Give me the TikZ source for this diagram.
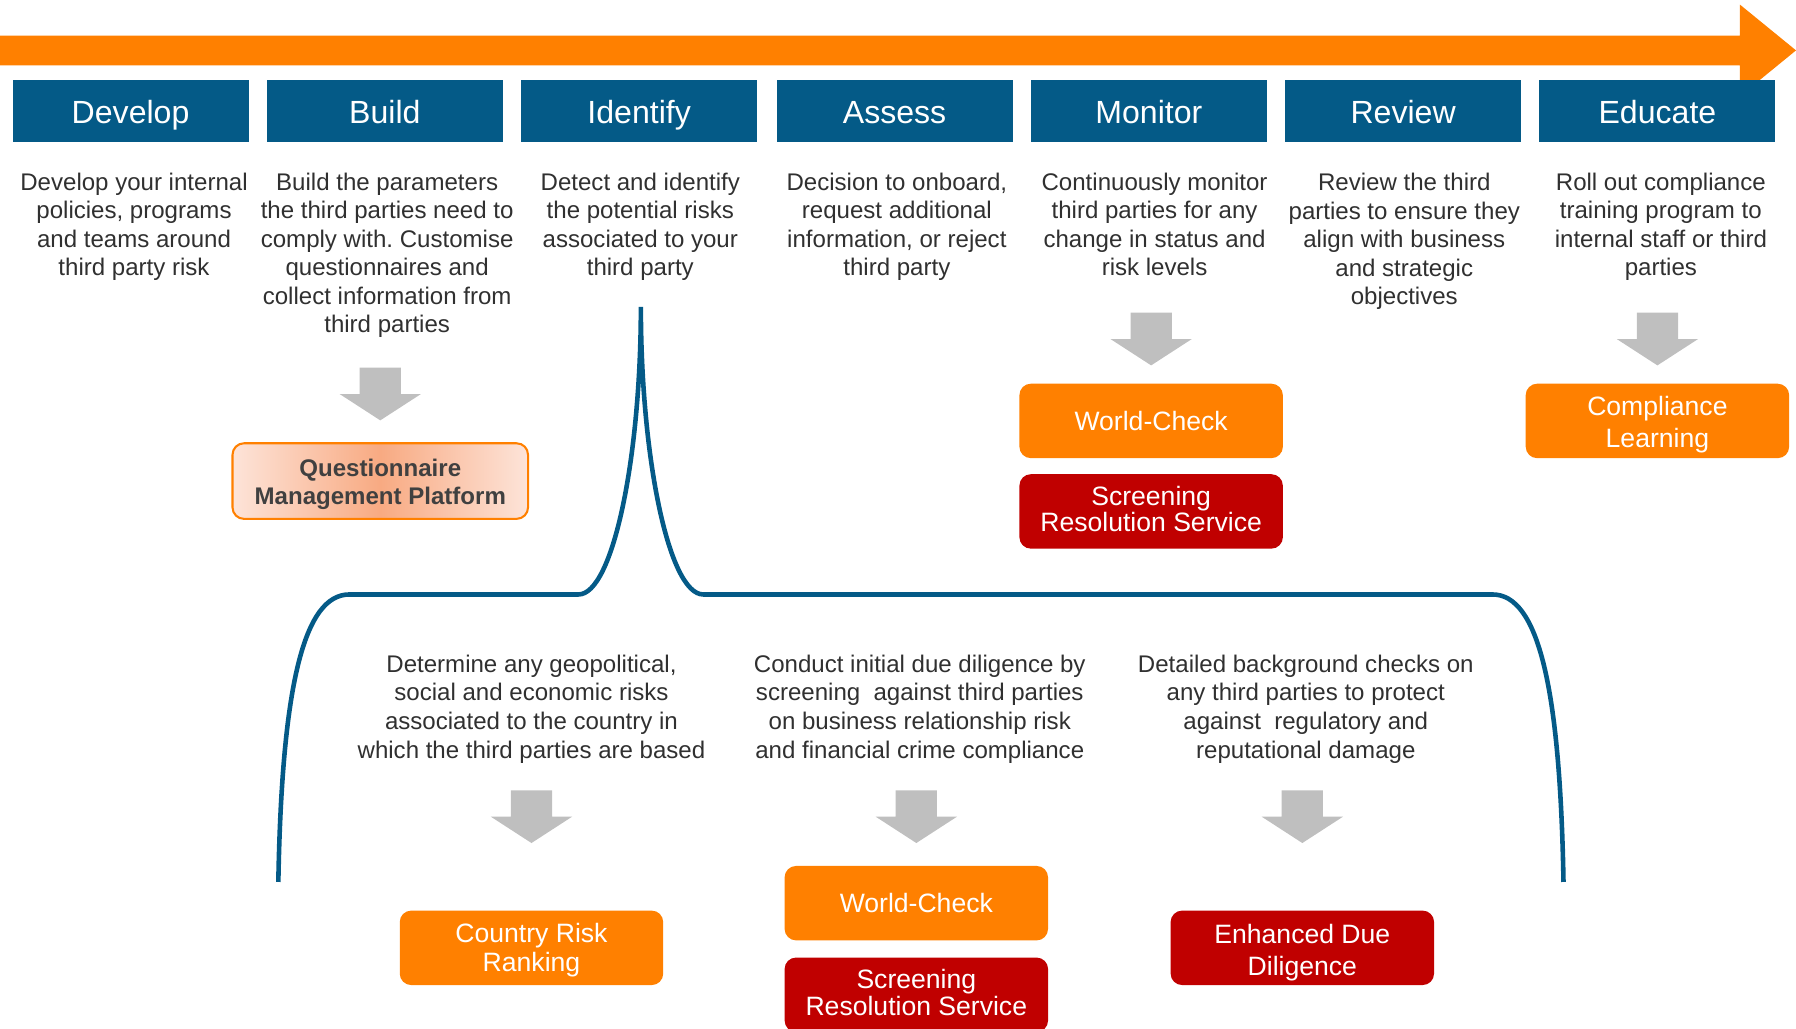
\documentclass[tikz,border=0pt]{standalone}
\usepackage{fontspec}
\setmainfont{Liberation Sans}
\frenchspacing
\definecolor{tpOrange}{RGB}{255,128,0}
\definecolor{tpBlue}{RGB}{4,90,135}
\definecolor{tpRed}{RGB}{192,0,0}
\definecolor{tpGray}{RGB}{191,191,191}
\definecolor{tpText}{RGB}{48,48,48}
\definecolor{qmpEdge}{RGB}{253,228,217}
\definecolor{qmpMid}{RGB}{248,170,130}
\definecolor{qmpText}{RGB}{64,64,64}
\tikzset{
  header/.style={fill=tpBlue, text=white, minimum width=103pt, minimum height=27pt,
    inner sep=0pt, text height=12pt, text depth=1pt, font=\fontsize{14}{16}\selectfont},
  desc/.style={align=center, text=tpText, inner sep=0pt,
    font=\fontsize{10.5}{12.45}\selectfont},
  toolbox/.style={rounded corners=5pt, minimum width=115pt, minimum height=32.5pt,
    inner sep=0pt},
  toolO/.style={toolbox, fill=tpOrange},
  toolR/.style={toolbox, fill=tpRed},
  tooltext/.style={text=white, align=center, inner sep=0pt,
    font=\fontsize{11.6}{14}\selectfont},
  tighttext/.style={tooltext, font=\fontsize{11.6}{11.5}\selectfont},
  bracket/.style={draw=tpBlue, line width=2pt},
  downarrow/.pic={\fill[tpGray] (-18,0) -- (18,0) -- (18,23) -- (35.5,23) -- (0,46)
    -- (-35.5,23) -- (-18,23) -- cycle;}
}
\begin{document}
\begin{tikzpicture}[x=0.5pt, y=-0.5pt]
\useasboundingbox (0,0) rectangle (1568,898);
\clip (0,0) rectangle (1568,898);

% timeline arrow
\fill[tpOrange] (0,31) -- (1519,31) -- (1519,4) -- (1568,44) -- (1519,84)
  -- (1519,57) -- (0,57) -- cycle;

% stage headers
\node[header] (h1) at (114,97) {Develop};
\node[header] (h2) at (336,97) {Build};
\node[header] (h3) at (558,97) {Identify};
\node[header] (h4) at (781,97) {Assess};
\node[header] (h5) at (1003,97) {Monitor};
\node[header] (h6) at (1225,97) {Review};
\node[header] (h7) at (1447,97) {Educate};

% stage descriptions
\node[desc] (d1) at (117,198) {Develop your internal\\policies, programs\\and teams around\\third party risk};
\node[desc] (d2) at (338,223) {Build the parameters\\the third parties need to\\comply with. Customise\\questionnaires and\\collect information from\\third parties};
\node[desc] (d3) at (559,198) {Detect and identify\\the potential risks\\associated to your\\third party};
\node[desc] (d4) at (783,198) {Decision to onboard,\\request additional\\information, or reject\\third party};
\node[desc] (d5) at (1008,196) {Continuously monitor\\third parties for any\\change in status and\\risk levels};
\node[desc] (d6) at (1226,211) {Review the third\\parties to ensure they\\align with business\\and strategic\\objectives};
\node[desc] (d7) at (1450,198) {Roll out compliance\\training program to\\internal staff or third\\parties};

% block arrows
\pic at (332,321) {downarrow};
\pic at (1005,273) {downarrow};
\pic at (1447,273) {downarrow};
\pic at (464,690) {downarrow};
\pic at (800,690) {downarrow};
\pic at (1137,690) {downarrow};

% tools of the stages
\node[rounded corners=5pt, minimum width=129pt, minimum height=33pt, inner sep=0pt,
  draw=tpOrange, line width=0.9pt, left color=qmpEdge, right color=qmpEdge,
  middle color=qmpMid] (qmp) at (332,420) {};
\node[align=center, inner sep=0pt, text=qmpText,
  font=\bfseries\fontsize{10.5}{12.5}\selectfont] (qmpt) at ([yshift=-1.5pt]qmp.center)
  {Questionnaire\\Management Platform};

\node[toolO] (wc1) at (1005,367.5) {};
\node[tooltext] (wc1t) at (wc1.center) {World-Check};
\node[toolR] (srs1) at (1005,446.5) {};
\node[tighttext] (srs1t) at ([yshift=1pt]srs1.center) {Screening\\Resolution Service};
\node[toolO] (cl) at (1447,367.5) {};
\node[tooltext] (clt) at ([yshift=-1.5pt]cl.center) {Compliance\\Learning};

% identify breakdown bracket
\coordinate (bl) at (243,770);
\coordinate (cusp) at (559.5,268);
\coordinate (br) at (1365,770);
\draw[bracket] (bl) .. controls (246,600) and (265,519) .. (305,519) -- (505,519)
  .. controls (535,519) and (559.5,400) .. (cusp)
  .. controls (559.5,400) and (584,519) .. (614,519) -- (1303,519)
  .. controls (1343,519) and (1362,600) .. (br);

% breakdown descriptions
\node[desc] (e1) at (464,619) {Determine any geopolitical,\\social and economic risks\\associated to the country in\\which the third parties are based};
\node[desc] (e2) at (803,619) {Conduct initial due diligence by\\screening\ \ against third parties\\on business relationship risk\\and financial crime compliance};
\node[desc] (e3) at (1140,619) {Detailed background checks on\\any third parties to protect\\against\ \ regulatory and\\reputational damage};

% breakdown tools
\node[toolO] (crr) at (464,827.5) {};
\node[tooltext, font=\fontsize{11.6}{12.5}\selectfont] (crrt) at ([yshift=-1pt]crr.center) {Country Risk\\Ranking};
\node[toolO] (wc2) at (800,788.5) {};
\node[tooltext] (wc2t) at (wc2.center) {World-Check};
\node[toolR] (srs2) at (800,868.5) {};
\node[tighttext] (srs2t) at ([yshift=1pt]srs2.center) {Screening\\Resolution Service};
\node[toolR] (edd) at (1137,827.5) {};
\node[tooltext] (eddt) at ([yshift=-2pt]edd.center) {Enhanced Due\\Diligence};
\end{tikzpicture}
\end{document}
